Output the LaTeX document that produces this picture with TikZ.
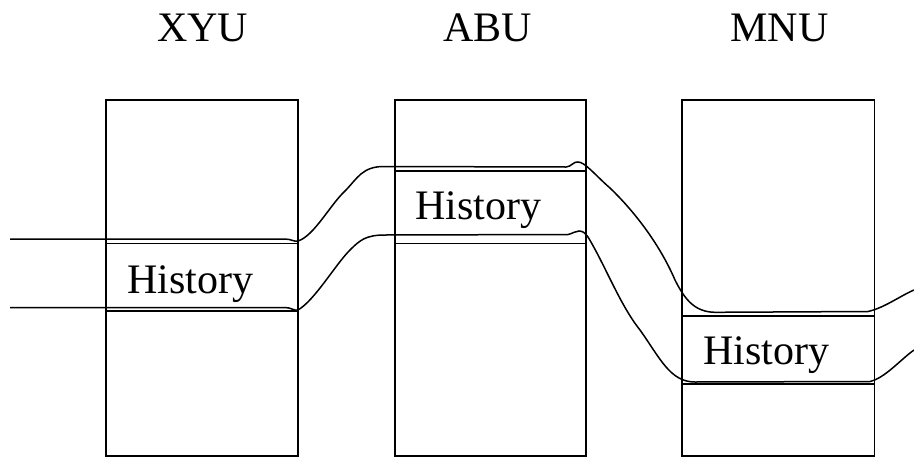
\documentclass[tikz,border=0pt]{standalone}
\usepackage{fontspec}
\setmainfont{Liberation Serif}
\begin{document}
\begin{tikzpicture}[x=1pt,y=-1pt,
  box/.style={draw,line width=1.7pt,inner sep=0pt},
  band/.style={line width=1.6pt},
  lbl/.style={font=\fontsize{42}{42}\selectfont,inner sep=0pt},
  curve/.style={line width=1.5pt}]
\useasboundingbox (0,0) rectangle (914,461);
% titles
\node[lbl,anchor=base] (t1) at (202.5,41) {XYU};
\node[lbl,anchor=base] (t2) at (487.5,41) {ABU};
\node[lbl,anchor=base] (t3) at (779.5,41) {MNU};
% boxes
\node[box,minimum width=192pt,minimum height=356pt] (b1) at (202,278) {};
\node[box,minimum width=191pt,minimum height=356pt] (b2) at (490.5,278) {};
\node[box,minimum width=192.5pt,minimum height=356pt] (b3) at (778.25,278) {};
% bands
\draw[band] (106,243.3) -- (298,243.3);
\draw[band] (106,310.7) -- (298,310.7);
\draw[band] (395,171) -- (586,171);
\draw[band] (395,243.3) -- (586,243.3);
\draw[band] (682,315.7) -- (874.5,315.7);
\draw[band] (682,384) -- (874.5,384);
% labels
\node[lbl,anchor=base west] (h1) at (127,293) {History};
\node[lbl,anchor=base west] (h2) at (415,219) {History};
\node[lbl,anchor=base west] (h3) at (703,364) {History};
% curves
\coordinate (u0) at (10,239);
\coordinate (u1) at (914,290);
\coordinate (l0) at (10,307.5);
\coordinate (l1) at (914,350);
\draw[curve] (u0) -- (285,239) .. controls (291,239) and (294,242) .. (298,241)
  .. controls (314,236) and (330,205) .. (345,191)
  .. controls (357,179) and (362,166) .. (385,166.5) -- (566,167)
  .. controls (571,167) and (574,161) .. (578,162)
  .. controls (585,162) and (595,175) .. (610,188)
  .. controls (635,212) and (660,245) .. (675,280)
  .. controls (685,300) and (695,312) .. (715,312.3) -- (868,311.5)
  .. controls (884,308) and (900,296) .. (u1);
\draw[curve] (l0) -- (285,307.5) .. controls (291,307.5) and (294,311) .. (298,310)
  .. controls (315,300) and (335,265) .. (350,250)
  .. controls (360,240) and (366,235) .. (385,235) -- (568,234.5)
  .. controls (573,233.5) and (575,231) .. (579,231)
  .. controls (583,231) and (585,233) .. (588,237)
  .. controls (605,265) and (620,305) .. (640,330)
  .. controls (660,358) and (670,382) .. (695,382) -- (870,381.5)
  .. controls (885,378) and (900,360) .. (l1);
\end{tikzpicture}
\end{document}
